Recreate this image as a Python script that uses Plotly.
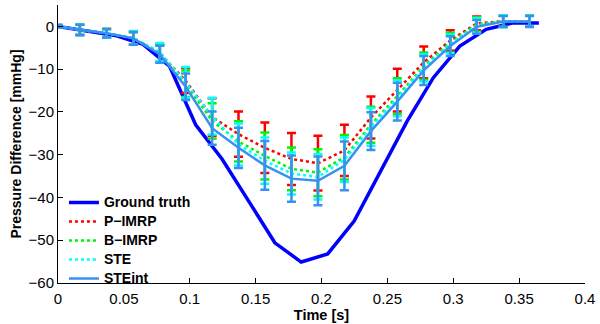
import plotly.graph_objects as go

# ---- data ----
gt_t = [0, 0.0246, 0.0446, 0.0646, 0.0846, 0.1045, 0.1245, 0.1446, 0.1646, 0.1846,
        0.2047, 0.2248, 0.2448, 0.2649, 0.2849, 0.305, 0.325, 0.345, 0.365]
gt_v = [0, -1.2, -2.2, -4.2, -9.3, -23.0, -31.0, -40.8, -50.6, -55.1,
        -53.2, -45.5, -33.8, -22.2, -12.0, -4.6, -0.7, 0.8, 0.8]

t_e = [0, 0.0166, 0.0369, 0.0572, 0.0773, 0.0969, 0.117, 0.137, 0.157, 0.1772,
       0.1973, 0.2174, 0.2375, 0.2575, 0.2776, 0.2977, 0.3178, 0.3379, 0.3579]

p_imrp = [0, -0.8, -1.6, -2.8, -6.3, -12.7, -21.2, -25.2, -28.4, -31.0,
          -32.0, -29.0, -21.3, -14.9, -8.4, -3.3, 0.7, 1.2, 1.2]
p_err = [0.3, 1.2, 1.0, 1.5, 2.0, 2.9, 4.4, 5.3, 5.9, 6.1,
         6.4, 6.0, 4.9, 5.0, 3.7, 2.4, 1.6, 1.3, 1.3]

b_imrp = [0, -0.8, -1.6, -2.8, -6.3, -13.4, -22.1, -26.9, -30.3, -33.3,
          -34.2, -30.6, -23.0, -16.3, -9.3, -3.8, 0.45, 1.2, 1.2]
b_err = [0.3, 1.2, 1.0, 1.5, 2.0, 3.1, 4.1, 4.7, 5.5, 5.0,
         5.5, 5.2, 4.2, 4.2, 3.2, 2.3, 1.7, 1.3, 1.3]

ste = [0, -0.8, -1.6, -2.7, -6.0, -13.1, -21.0, -27.6, -31.4, -34.4,
       -35.2, -31.2, -23.5, -16.8, -9.7, -4.1, 0.2, 1.2, 1.2]
ste_err = [0.3, 1.2, 1.0, 1.6, 2.1, 3.6, 4.3, 4.9, 5.4, 4.9,
           5.3, 5.2, 4.4, 4.2, 3.2, 2.2, 1.7, 1.4, 1.3]

steint = [0, -0.8, -1.6, -2.8, -6.5, -14.1, -23.8, -28.4, -32.5, -35.6,
          -36.1, -32.6, -24.5, -17.6, -10.3, -4.6, -0.1, 1.15, 1.15]
steint_err = [0.3, 1.2, 1.0, 1.5, 2.0, 3.1, 3.9, 4.7, 5.7, 5.4,
              5.7, 5.7, 4.4, 4.4, 3.4, 2.3, 1.6, 1.3, 1.3]

series_names = ["Ground truth", "P\u2212IMRP", "B\u2212IMRP", "STE", "STEint"]

x_ticks = [0, 0.05, 0.1, 0.15, 0.2, 0.25, 0.3, 0.35, 0.4]
y_ticks = [0, -10, -20, -30, -40, -50, -60]

FONT = "Liberation Sans, Arial, Helvetica, sans-serif"


def legend_label(s):
    return f'<span style="font-size:14px"><b>{s}</b></span>'


fig = go.Figure()

fig.add_trace(go.Scatter(x=gt_t, y=gt_v, mode="lines", name=legend_label(series_names[0]),
                         line=dict(color="rgb(0,0,255)", width=3.5)))

series = [
    (series_names[1], p_imrp, p_err, "rgb(255,0,0)", "dot"),
    (series_names[2], b_imrp, b_err, "rgb(0,245,0)", "dot"),
    (series_names[3], ste, ste_err, "rgb(0,255,255)", "dot"),
    (series_names[4], steint, steint_err, "rgb(55,145,240)", "solid"),
]
for name, vals, errs, col, dash in series:
    fig.add_trace(go.Scatter(
        x=t_e, y=vals, mode="lines", name=legend_label(name),
        line=dict(color=col, width=2.5, dash=dash),
        error_y=dict(type="data", array=errs, visible=True, color=col,
                     thickness=2.5, width=4.5),
    ))

fig.update_layout(
    width=600, height=324,
    margin=dict(l=58, r=11, t=5, b=36),
    paper_bgcolor="white", plot_bgcolor="white",
    font=dict(family=FONT, size=15, color="black"),
    showlegend=True,
    legend=dict(x=0.0113, y=-0.036, xanchor="left", yanchor="bottom",
                bgcolor="rgba(0,0,0,0)", borderwidth=0,
                font=dict(family=FONT, size=10.6, color="black"),
                tracegroupgap=0),
)
fig.update_xaxes(
    range=[0, 0.4], tickmode="array", tickvals=x_ticks,
    ticktext=[f"{v:g}" for v in x_ticks],
    showline=True, linecolor="black", linewidth=1, mirror=False,
    ticks="inside", ticklen=5, tickcolor="black", showgrid=False, zeroline=False,
    ticklabelstandoff=2,
    title=dict(text="<b>Time [s]</b>", font=dict(size=14.5), standoff=2),
)
fig.update_yaxes(
    range=[-60, 5], tickmode="array", tickvals=y_ticks,
    ticktext=[("\u2212" + str(-v)) if v < 0 else str(v) for v in y_ticks],
    showline=True, linecolor="black", linewidth=1, mirror=False,
    ticks="inside", ticklen=5, tickcolor="black", showgrid=False, zeroline=False,
    title=dict(text="<b>Pressure Difference [mmHg]</b>", font=dict(size=14), standoff=3),
)

fig.write_html("out.html")
